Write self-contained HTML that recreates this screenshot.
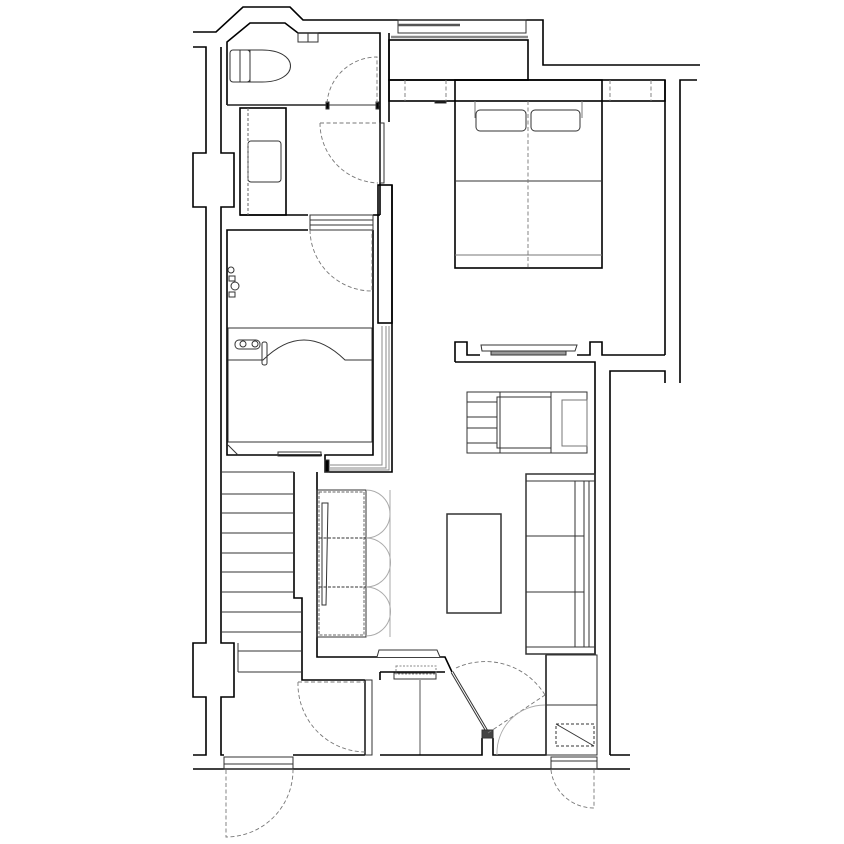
<!DOCTYPE html>
<html><head><meta charset="utf-8"><style>html,body{margin:0;padding:0;background:#fff}svg{display:block}</style></head>
<body>
<svg width="844" height="844" viewBox="0 0 844 844" xmlns="http://www.w3.org/2000/svg" fill="none" stroke-linejoin="miter">
<g stroke="#000" stroke-width="1.6">
<!-- outer left wall -->
<polyline points="193,47 206,47 206,153 193,153 193,207 206,207 206,643 193,643 193,697 206,697 206,755 193,755"/>
<polyline points="193,32 216,32 243,7 290,7 303,20 543,20 543,65 700,65"/>
<polyline points="221,47 221,153 234,153 234,207 221,207 221,643 234,643 234,697 221,697 221,755 224,755"/>
<line x1="193" y1="769" x2="630" y2="769"/>
<!-- toilet room -->
<polyline points="227,105 227,42 250,23 285,23 298,33 380,33 380,215"/>
<line x1="227" y1="105" x2="327" y2="105"/>
<line x1="378" y1="105" x2="380" y2="105"/>
<polyline points="389,33 389,122"/>
<polyline points="392,185 392,323"/>
<rect x="378" y="185" width="14" height="138"/>
<!-- vanity -->
<rect x="240" y="108" width="46" height="107"/>
<line x1="240" y1="215" x2="308" y2="215"/>
<line x1="373" y1="215" x2="380" y2="215"/>
<!-- bath room -->
<polyline points="308,230 227,230 227,455 322,455"/>
<line x1="373" y1="230" x2="373" y2="323"/>
<polyline points="373,323 373,455 325,455 325,472 392,472 392,323"/>
<!-- stairs wall -->
<polyline points="317,472 317,657 445,657 452,672"/>
<polyline points="294,472 294,598 302,598 302,680 365,680"/>
<polyline points="380,672 445,672"/>
<line x1="380" y1="672" x2="380" y2="680"/>
<line x1="365" y1="680" x2="365" y2="755"/>
<line x1="420" y1="680" x2="420" y2="755" stroke="#555" stroke-width="1"/>
<polyline points="293,755 365,755"/>
<polyline points="380,755 482,755 482,738"/>
<polyline points="493,738 493,755 546,755 546,655"/>
<!-- bedroom -->
<rect x="389" y="40" width="139" height="40"/>
<rect x="389" y="80" width="276" height="21"/>
<line x1="665" y1="80" x2="665" y2="355"/>
<polyline points="697,80 680,80 680,383"/>
<polyline points="455,362 455,342 467,342 467,355 480,355"/>
<polyline points="577,355 590,355 590,342 602,342 602,355 665,355"/>
<polyline points="455,362 595,362 595,655"/>
<polyline points="610,755 610,371 665,371 665,383"/>
<line x1="610" y1="755" x2="630" y2="755"/>
<rect x="455" y="80" width="147" height="188"/>
</g>
<g stroke="#333" stroke-width="1">
<rect x="398" y="20" width="128" height="13"/>
<line x1="398" y1="25" x2="460" y2="25" stroke-width="2.5" stroke="#555"/>
<line x1="391" y1="37" x2="528" y2="37" stroke="#888" stroke-width="2.5"/>
<line x1="455" y1="181" x2="602" y2="181"/>
<line x1="455" y1="255" x2="602" y2="255" stroke="#777"/>
<rect x="476" y="110" width="50" height="21" rx="4"/>
<rect x="531" y="110" width="49" height="21" rx="4"/>
<path d="M475,101 V118 M582,101 V118" stroke="#777"/>
<rect x="435" y="101" width="11" height="2" fill="#000"/>
<path d="M481,345 H577 L575,351 H482 Z" fill="#fff"/>
<rect x="491" y="351" width="75" height="4" fill="#999"/>
<!-- toilet -->
<path d="M250,50 H262 C300,50 300,82 262,82 H250 Z"/>
<rect x="230" y="50" width="20" height="32" rx="3"/>
<rect x="240" y="50" width="10" height="32"/>
<rect x="298" y="33" width="10" height="9"/><rect x="308" y="33" width="10" height="9"/>
<rect x="248" y="141" width="33" height="41" rx="3"/>
<line x1="248" y1="108" x2="248" y2="215" stroke="#666" stroke-dasharray="3,2"/>
<!-- doors frames -->
<rect x="380" y="123" width="4" height="60"/>
<rect x="310" y="215" width="63" height="15"/>
<line x1="310" y1="220" x2="373" y2="220"/>
<line x1="310" y1="225" x2="373" y2="225"/>
<line x1="227" y1="105" x2="380" y2="105"/>
<rect x="326" y="102" width="3" height="7" fill="#000"/>
<rect x="376" y="102" width="3" height="7" fill="#000"/>
<!-- bath -->
<rect x="228" y="328" width="144" height="114"/>
<path d="M228,360 H263 Q304,320 345,360 H372"/>
<rect x="235" y="340" width="25" height="9" rx="4"/>
<circle cx="243" cy="344" r="3"/><circle cx="255" cy="344" r="3"/>
<rect x="262" y="342" width="5" height="23" rx="2"/>
<rect x="278" y="452" width="43" height="4"/>
<line x1="228" y1="445" x2="238" y2="455"/>
<path d="M382,326 V465 H330 M386,326 V468 H330 M389,326 V470 H330" stroke="#888"/>
<rect x="325" y="460" width="4" height="12" fill="#000"/>
<circle cx="231" cy="270" r="3"/><circle cx="235" cy="286" r="4"/>
<rect x="229" y="276" width="6" height="5"/><rect x="229" y="292" width="6" height="5"/>
<!-- stairs -->
<path d="M221,472 H294 M221,494 H294 M221,513 H294 M221,533 H294 M221,553 H294 M221,572 H294 M221,592 H294 M221,612 H302 M221,632 H302 M238,651 H302 M238,672 H302 M238,643 V672" />
<!-- closet -->
<rect x="317" y="490" width="49" height="147"/>
<rect x="319" y="492" width="45" height="143" stroke-dasharray="3,1.5" stroke="#666"/>
<path d="M319,538 H366 M319,587 H366" stroke-dasharray="3,1.5"/>
<path d="M322,503 H328 L326,605 H322 Z"/>
<path d="M366,490 A24,24 0 0 1 366,538 A24,24 0 0 1 366,587 A24,24 0 0 1 366,636 M390,490 V637" stroke="#aaa"/>
<path d="M377,657 L379,650 H437 L440,657" fill="#fff"/>
<rect x="394" y="673" width="42" height="6"/>
<rect x="396" y="666" width="40" height="8" stroke="#888" stroke-dasharray="2,1.5"/>
<!-- entry -->
<rect x="365" y="680" width="7" height="75"/>
<line x1="452" y1="672" x2="488" y2="733" stroke-width="3"/>
<line x1="452" y1="672" x2="488" y2="733" stroke="#fff" stroke-width="1"/>
<rect x="482" y="730" width="11" height="8" fill="#444"/>
<rect x="224" y="757" width="69" height="12"/>
<line x1="224" y1="764" x2="293" y2="764"/>
<rect x="551" y="757" width="46" height="12"/>
<line x1="551" y1="761" x2="597" y2="761"/>
<!-- living -->
<rect x="467" y="392" width="120" height="61"/>
<rect x="497" y="397" width="54" height="51"/>
<path d="M467,402 H497 M467,417 H497 M467,428 H497 M467,443 H497 M500,392 V453 M551,392 V453"/>
<rect x="562" y="400" width="25" height="46" stroke="#777"/>
<rect x="447" y="514" width="54" height="99" stroke-width="1.5"/>
<rect x="526" y="474" width="69" height="180" stroke-width="1.5"/>
<path d="M526,481 H595 M526,536 H584 M526,592 H584 M526,647 H595 M575,481 V647 M584,481 V647 M589,481 V647"/>
<rect x="546" y="655" width="51" height="100"/>
<line x1="546" y1="705" x2="597" y2="705"/>
<rect x="556" y="724" width="38" height="22" stroke-dasharray="3,2"/>
<line x1="556" y1="724" x2="594" y2="746"/>
</g>
<!-- dashed lines and door swings -->
<g stroke="#777" stroke-width="0.9" stroke-dasharray="4,2.5">
<path d="M405,80 V101 M446,80 V101 M610,80 V101 M651,80 V101"/>
<line x1="528" y1="101" x2="528" y2="268"/>
<path d="M327,103 A50,50 0 0 1 377,57 V103"/>
<path d="M320,123 H378 M320,123 A60,60 0 0 0 378,183"/>
<path d="M310,230 A62,62 0 0 0 372,291 V230"/>
<path d="M298,682 H365 M298,682 A68,68 0 0 0 366,752"/>
<path d="M226,770 V837 A67,67 0 0 0 293,770"/>
<path d="M551,770 A43,43 0 0 0 594,808 V770"/>
<path d="M488,733 L545,695 M456,668 A70,70 0 0 1 545,695"/>
<path d="M497,755 A48,48 0 0 1 545,705" stroke-dasharray="none" stroke="#aaa"/>
</g>
</svg>
</body></html>
